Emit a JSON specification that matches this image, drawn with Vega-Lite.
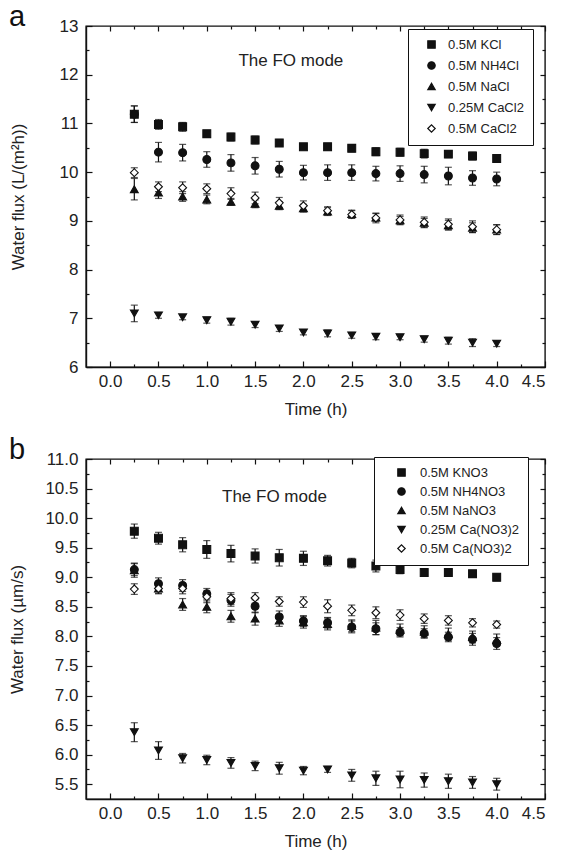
{
"$schema": "https://vega.github.io/schema/vega-lite/v6.json",
"padding": {"left": 8, "top": 2, "right": 5, "bottom": 2},
"spacing": 17,
"resolve": {"scale": {"shape": "independent", "fill": "independent", "stroke": "independent", "y": "independent"}},
"config": {
 "font": "Liberation Sans",
 "view": {"stroke": "#111", "strokeWidth": 1.4},
 "axis": {"domainColor": "#111", "domainWidth": 1.4, "tickColor": "#111", "tickWidth": 1.2, "labelColor": "#222", "labelFontSize": 17, "titleFontSize": 17, "titleFontWeight": "normal", "titleColor": "#222", "grid": false},
 "legend": {"labelFontSize": 13, "labelColor": "#222", "symbolStrokeWidth": 1.2}
},
"datasets": {
 "a": [
{"t":0.25,"v":11.19,"e":0.17,"s":"0.5M KCl"},{"t":0.5,"v":10.98,"e":0.1,"s":"0.5M KCl"},{"t":0.75,"v":10.93,"e":0.09,"s":"0.5M KCl"},{"t":1.0,"v":10.79,"e":0.05,"s":"0.5M KCl"},{"t":1.25,"v":10.72,"e":0.08,"s":"0.5M KCl"},{"t":1.5,"v":10.66,"e":0.08,"s":"0.5M KCl"},{"t":1.75,"v":10.6,"e":0.07,"s":"0.5M KCl"},{"t":2.0,"v":10.52,"e":0.06,"s":"0.5M KCl"},{"t":2.25,"v":10.52,"e":0.07,"s":"0.5M KCl"},{"t":2.5,"v":10.49,"e":0.07,"s":"0.5M KCl"},{"t":2.75,"v":10.42,"e":0.08,"s":"0.5M KCl"},{"t":3.0,"v":10.41,"e":0.08,"s":"0.5M KCl"},{"t":3.25,"v":10.38,"e":0.09,"s":"0.5M KCl"},{"t":3.5,"v":10.37,"e":0.07,"s":"0.5M KCl"},{"t":3.75,"v":10.33,"e":0.08,"s":"0.5M KCl"},{"t":4.0,"v":10.28,"e":0.08,"s":"0.5M KCl"},
{"t":0.25,"v":11.19,"e":0.17,"s":"0.5M NH4Cl"},{"t":0.5,"v":10.41,"e":0.2,"s":"0.5M NH4Cl"},{"t":0.75,"v":10.4,"e":0.17,"s":"0.5M NH4Cl"},{"t":1.0,"v":10.26,"e":0.16,"s":"0.5M NH4Cl"},{"t":1.25,"v":10.19,"e":0.17,"s":"0.5M NH4Cl"},{"t":1.5,"v":10.13,"e":0.17,"s":"0.5M NH4Cl"},{"t":1.75,"v":10.06,"e":0.16,"s":"0.5M NH4Cl"},{"t":2.0,"v":9.99,"e":0.15,"s":"0.5M NH4Cl"},{"t":2.25,"v":9.99,"e":0.16,"s":"0.5M NH4Cl"},{"t":2.5,"v":9.99,"e":0.16,"s":"0.5M NH4Cl"},{"t":2.75,"v":9.97,"e":0.15,"s":"0.5M NH4Cl"},{"t":3.0,"v":9.97,"e":0.16,"s":"0.5M NH4Cl"},{"t":3.25,"v":9.95,"e":0.17,"s":"0.5M NH4Cl"},{"t":3.5,"v":9.92,"e":0.18,"s":"0.5M NH4Cl"},{"t":3.75,"v":9.88,"e":0.15,"s":"0.5M NH4Cl"},{"t":4.0,"v":9.86,"e":0.14,"s":"0.5M NH4Cl"},
{"t":0.25,"v":9.65,"e":0.22,"s":"0.5M NaCl"},{"t":0.5,"v":9.58,"e":0.12,"s":"0.5M NaCl"},{"t":0.75,"v":9.5,"e":0.1,"s":"0.5M NaCl"},{"t":1.0,"v":9.44,"e":0.09,"s":"0.5M NaCl"},{"t":1.25,"v":9.39,"e":0.07,"s":"0.5M NaCl"},{"t":1.5,"v":9.35,"e":0.08,"s":"0.5M NaCl"},{"t":1.75,"v":9.31,"e":0.08,"s":"0.5M NaCl"},{"t":2.0,"v":9.26,"e":0.08,"s":"0.5M NaCl"},{"t":2.25,"v":9.19,"e":0.08,"s":"0.5M NaCl"},{"t":2.5,"v":9.14,"e":0.08,"s":"0.5M NaCl"},{"t":2.75,"v":9.07,"e":0.08,"s":"0.5M NaCl"},{"t":3.0,"v":9.01,"e":0.08,"s":"0.5M NaCl"},{"t":3.25,"v":8.96,"e":0.09,"s":"0.5M NaCl"},{"t":3.5,"v":8.91,"e":0.1,"s":"0.5M NaCl"},{"t":3.75,"v":8.86,"e":0.1,"s":"0.5M NaCl"},{"t":4.0,"v":8.82,"e":0.1,"s":"0.5M NaCl"},
{"t":0.25,"v":7.1,"e":0.17,"s":"0.25M CaCl2"},{"t":0.5,"v":7.06,"e":0.06,"s":"0.25M CaCl2"},{"t":0.75,"v":7.02,"e":0.05,"s":"0.25M CaCl2"},{"t":1.0,"v":6.96,"e":0.06,"s":"0.25M CaCl2"},{"t":1.25,"v":6.93,"e":0.07,"s":"0.25M CaCl2"},{"t":1.5,"v":6.87,"e":0.06,"s":"0.25M CaCl2"},{"t":1.75,"v":6.79,"e":0.06,"s":"0.25M CaCl2"},{"t":2.0,"v":6.71,"e":0.05,"s":"0.25M CaCl2"},{"t":2.25,"v":6.69,"e":0.07,"s":"0.25M CaCl2"},{"t":2.5,"v":6.65,"e":0.06,"s":"0.25M CaCl2"},{"t":2.75,"v":6.62,"e":0.06,"s":"0.25M CaCl2"},{"t":3.0,"v":6.61,"e":0.05,"s":"0.25M CaCl2"},{"t":3.25,"v":6.57,"e":0.06,"s":"0.25M CaCl2"},{"t":3.5,"v":6.54,"e":0.07,"s":"0.25M CaCl2"},{"t":3.75,"v":6.5,"e":0.08,"s":"0.25M CaCl2"},{"t":4.0,"v":6.48,"e":0.06,"s":"0.25M CaCl2"},
{"t":0.25,"v":9.99,"e":0.1,"s":"0.5M CaCl2"},{"t":0.5,"v":9.7,"e":0.1,"s":"0.5M CaCl2"},{"t":0.75,"v":9.68,"e":0.12,"s":"0.5M CaCl2"},{"t":1.0,"v":9.66,"e":0.1,"s":"0.5M CaCl2"},{"t":1.25,"v":9.56,"e":0.12,"s":"0.5M CaCl2"},{"t":1.5,"v":9.47,"e":0.12,"s":"0.5M CaCl2"},{"t":1.75,"v":9.37,"e":0.11,"s":"0.5M CaCl2"},{"t":2.0,"v":9.31,"e":0.1,"s":"0.5M CaCl2"},{"t":2.25,"v":9.21,"e":0.08,"s":"0.5M CaCl2"},{"t":2.5,"v":9.13,"e":0.08,"s":"0.5M CaCl2"},{"t":2.75,"v":9.06,"e":0.1,"s":"0.5M CaCl2"},{"t":3.0,"v":9.02,"e":0.1,"s":"0.5M CaCl2"},{"t":3.25,"v":8.97,"e":0.11,"s":"0.5M CaCl2"},{"t":3.5,"v":8.93,"e":0.11,"s":"0.5M CaCl2"},{"t":3.75,"v":8.88,"e":0.12,"s":"0.5M CaCl2"},{"t":4.0,"v":8.82,"e":0.1,"s":"0.5M CaCl2"}
 ],
 "b": [
{"t":0.25,"v":9.78,"e":0.12,"s":"0.5M KNO3"},{"t":0.5,"v":9.66,"e":0.1,"s":"0.5M KNO3"},{"t":0.75,"v":9.55,"e":0.12,"s":"0.5M KNO3"},{"t":1.0,"v":9.47,"e":0.15,"s":"0.5M KNO3"},{"t":1.25,"v":9.4,"e":0.14,"s":"0.5M KNO3"},{"t":1.5,"v":9.36,"e":0.12,"s":"0.5M KNO3"},{"t":1.75,"v":9.33,"e":0.14,"s":"0.5M KNO3"},{"t":2.0,"v":9.32,"e":0.12,"s":"0.5M KNO3"},{"t":2.25,"v":9.28,"e":0.09,"s":"0.5M KNO3"},{"t":2.5,"v":9.24,"e":0.08,"s":"0.5M KNO3"},{"t":2.75,"v":9.19,"e":0.1,"s":"0.5M KNO3"},{"t":3.0,"v":9.13,"e":0.07,"s":"0.5M KNO3"},{"t":3.25,"v":9.08,"e":0.04,"s":"0.5M KNO3"},{"t":3.5,"v":9.08,"e":0.03,"s":"0.5M KNO3"},{"t":3.75,"v":9.06,"e":0.03,"s":"0.5M KNO3"},{"t":4.0,"v":9.0,"e":0.06,"s":"0.5M KNO3"},
{"t":0.25,"v":9.13,"e":0.1,"s":"0.5M NH4NO3"},{"t":0.5,"v":8.89,"e":0.1,"s":"0.5M NH4NO3"},{"t":0.75,"v":8.86,"e":0.1,"s":"0.5M NH4NO3"},{"t":1.0,"v":8.72,"e":0.09,"s":"0.5M NH4NO3"},{"t":1.25,"v":8.61,"e":0.1,"s":"0.5M NH4NO3"},{"t":1.5,"v":8.51,"e":0.11,"s":"0.5M NH4NO3"},{"t":1.75,"v":8.33,"e":0.1,"s":"0.5M NH4NO3"},{"t":2.0,"v":8.26,"e":0.09,"s":"0.5M NH4NO3"},{"t":2.25,"v":8.23,"e":0.09,"s":"0.5M NH4NO3"},{"t":2.5,"v":8.16,"e":0.1,"s":"0.5M NH4NO3"},{"t":2.75,"v":8.13,"e":0.1,"s":"0.5M NH4NO3"},{"t":3.0,"v":8.07,"e":0.08,"s":"0.5M NH4NO3"},{"t":3.25,"v":8.05,"e":0.08,"s":"0.5M NH4NO3"},{"t":3.5,"v":7.99,"e":0.08,"s":"0.5M NH4NO3"},{"t":3.75,"v":7.95,"e":0.1,"s":"0.5M NH4NO3"},{"t":4.0,"v":7.88,"e":0.1,"s":"0.5M NH4NO3"},
{"t":0.25,"v":9.12,"e":0.12,"s":"0.5M NaNO3"},{"t":0.5,"v":8.81,"e":0.09,"s":"0.5M NaNO3"},{"t":0.75,"v":8.54,"e":0.1,"s":"0.5M NaNO3"},{"t":1.0,"v":8.5,"e":0.1,"s":"0.5M NaNO3"},{"t":1.25,"v":8.34,"e":0.1,"s":"0.5M NaNO3"},{"t":1.5,"v":8.3,"e":0.11,"s":"0.5M NaNO3"},{"t":1.75,"v":8.27,"e":0.1,"s":"0.5M NaNO3"},{"t":2.0,"v":8.24,"e":0.1,"s":"0.5M NaNO3"},{"t":2.25,"v":8.21,"e":0.1,"s":"0.5M NaNO3"},{"t":2.5,"v":8.18,"e":0.1,"s":"0.5M NaNO3"},{"t":2.75,"v":8.15,"e":0.12,"s":"0.5M NaNO3"},{"t":3.0,"v":8.11,"e":0.1,"s":"0.5M NaNO3"},{"t":3.25,"v":8.08,"e":0.1,"s":"0.5M NaNO3"},{"t":3.5,"v":8.04,"e":0.1,"s":"0.5M NaNO3"},{"t":3.75,"v":7.99,"e":0.1,"s":"0.5M NaNO3"},{"t":4.0,"v":7.94,"e":0.1,"s":"0.5M NaNO3"},
{"t":0.25,"v":6.38,"e":0.16,"s":"0.25M Ca(NO3)2"},{"t":0.5,"v":6.07,"e":0.15,"s":"0.25M Ca(NO3)2"},{"t":0.75,"v":5.94,"e":0.08,"s":"0.25M Ca(NO3)2"},{"t":1.0,"v":5.91,"e":0.08,"s":"0.25M Ca(NO3)2"},{"t":1.25,"v":5.86,"e":0.09,"s":"0.25M Ca(NO3)2"},{"t":1.5,"v":5.81,"e":0.08,"s":"0.25M Ca(NO3)2"},{"t":1.75,"v":5.77,"e":0.1,"s":"0.25M Ca(NO3)2"},{"t":2.0,"v":5.73,"e":0.07,"s":"0.25M Ca(NO3)2"},{"t":2.25,"v":5.75,"e":0.05,"s":"0.25M Ca(NO3)2"},{"t":2.5,"v":5.65,"e":0.1,"s":"0.25M Ca(NO3)2"},{"t":2.75,"v":5.6,"e":0.12,"s":"0.25M Ca(NO3)2"},{"t":3.0,"v":5.58,"e":0.14,"s":"0.25M Ca(NO3)2"},{"t":3.25,"v":5.57,"e":0.12,"s":"0.25M Ca(NO3)2"},{"t":3.5,"v":5.55,"e":0.12,"s":"0.25M Ca(NO3)2"},{"t":3.75,"v":5.53,"e":0.1,"s":"0.25M Ca(NO3)2"},{"t":4.0,"v":5.5,"e":0.1,"s":"0.25M Ca(NO3)2"},
{"t":0.25,"v":8.8,"e":0.09,"s":"0.5M Ca(NO3)2"},{"t":0.5,"v":8.81,"e":0.08,"s":"0.5M Ca(NO3)2"},{"t":0.75,"v":8.81,"e":0.09,"s":"0.5M Ca(NO3)2"},{"t":1.0,"v":8.67,"e":0.1,"s":"0.5M Ca(NO3)2"},{"t":1.25,"v":8.64,"e":0.1,"s":"0.5M Ca(NO3)2"},{"t":1.5,"v":8.65,"e":0.09,"s":"0.5M Ca(NO3)2"},{"t":1.75,"v":8.59,"e":0.08,"s":"0.5M Ca(NO3)2"},{"t":2.0,"v":8.58,"e":0.09,"s":"0.5M Ca(NO3)2"},{"t":2.25,"v":8.51,"e":0.11,"s":"0.5M Ca(NO3)2"},{"t":2.5,"v":8.44,"e":0.09,"s":"0.5M Ca(NO3)2"},{"t":2.75,"v":8.4,"e":0.1,"s":"0.5M Ca(NO3)2"},{"t":3.0,"v":8.36,"e":0.09,"s":"0.5M Ca(NO3)2"},{"t":3.25,"v":8.3,"e":0.08,"s":"0.5M Ca(NO3)2"},{"t":3.5,"v":8.27,"e":0.08,"s":"0.5M Ca(NO3)2"},{"t":3.75,"v":8.23,"e":0.07,"s":"0.5M Ca(NO3)2"},{"t":4.0,"v":8.2,"e":0.06,"s":"0.5M Ca(NO3)2"}
 ]
},
"vconcat": [
 {
  "width": 459, "height": 341,
  "title": {"text": "a", "anchor": "start", "frame": "group", "fontSize": 29, "fontWeight": "normal", "color": "#111", "dx": -77, "offset": -15},
  "data": {"name": "a"},
  "resolve": {"axis": {"x": "independent", "y": "independent"}},
  "layer": [
   {"mark": {"type": "errorbar", "ticks": {"size": 7}, "color": "#111", "thickness": 1.2},
    "encoding": {
     "x": {"field": "t", "type": "quantitative", "scale": {"domain": [-0.25, 4.5], "nice": false, "zero": false}, "axis": null},
     "y": {"field": "v", "type": "quantitative", "scale": {"domain": [6, 13], "nice": false, "zero": false}, "axis": null},
     "yError": {"field": "e"}
    }},
   {"mark": {"type": "point", "filled": false, "size": 62, "strokeWidth": 1.1, "opacity": 1},
    "encoding": {
     "x": {"field": "t", "type": "quantitative", "scale": {"domain": [-0.25, 4.5], "nice": false, "zero": false},
       "axis": {"orient": "bottom", "title": "Time (h)", "values": [0,0.25,0.5,0.75,1,1.25,1.5,1.75,2,2.25,2.5,2.75,3,3.25,3.5,3.75,4,4.25,4.5], "labelExpr": "datum.value % 0.5 === 0 ? format(datum.value, '.1f') : ''", "tickSize": {"condition": {"test": "datum.value % 0.5 === 0", "value": -6}, "value": -3}, "labelPadding": 12, "titlePadding": 12}},
     "y": {"field": "v", "type": "quantitative", "scale": {"domain": [6, 13], "nice": false, "zero": false},
       "axis": {"orient": "left", "title": "Water flux (L/(m²h))", "values": [6,6.5,7,7.5,8,8.5,9,9.5,10,10.5,11,11.5,12,12.5,13], "labelExpr": "datum.value % 1 === 0 ? format(datum.value, 'd') : ''", "tickSize": {"condition": {"test": "datum.value % 1 === 0", "value": -6}, "value": -3}, "labelPadding": 14, "titlePadding": 32}},
     "shape": {"field": "s", "type": "nominal", "scale": {"domain": ["0.5M KCl","0.5M NH4Cl","0.5M NaCl","0.25M CaCl2","0.5M CaCl2"], "range": ["square","circle","triangle-up","triangle-down","diamond"]},
       "legend": {"title": null, "orient": "none", "legendX": 322, "legendY": 3, "strokeColor": "#111", "fillColor": "white", "padding": 9, "symbolOffset": 8, "rowPadding": 7, "symbolSize": 55, "labelOffset": 10}},
     "fill": {"field": "s", "type": "nominal", "scale": {"domain": ["0.5M KCl","0.5M NH4Cl","0.5M NaCl","0.25M CaCl2","0.5M CaCl2"], "range": ["#111","#111","#111","#111","white"]},
       "legend": {"title": null, "orient": "none", "legendX": 322, "legendY": 3, "strokeColor": "#111", "fillColor": "white", "padding": 9, "symbolOffset": 8, "rowPadding": 7, "symbolSize": 55, "labelOffset": 10}},
     "stroke": {"field": "s", "type": "nominal", "scale": {"domain": ["0.5M KCl","0.5M NH4Cl","0.5M NaCl","0.25M CaCl2","0.5M CaCl2"], "range": ["#111","#111","#111","#111","#111"]},
       "legend": {"title": null, "orient": "none", "legendX": 322, "legendY": 3, "strokeColor": "#111", "fillColor": "white", "padding": 9, "symbolOffset": 8, "rowPadding": 7, "symbolSize": 55, "labelOffset": 10}}
    }},
   {"data": {"values": [{"t": 1.87, "v": 12.28, "label": "The FO mode"}]},
    "mark": {"type": "text", "fontSize": 17, "color": "#222"},
    "encoding": {
     "x": {"field": "t", "type": "quantitative", "scale": {"domain": [-0.25, 4.5], "nice": false, "zero": false},
       "axis": {"orient": "top", "title": null, "labels": false, "domain": false, "values": [0,0.25,0.5,0.75,1,1.25,1.5,1.75,2,2.25,2.5,2.75,3,3.25,3.5,3.75,4,4.25,4.5], "tickSize": {"condition": {"test": "datum.value % 0.5 === 0", "value": -5}, "value": -3}}},
     "y": {"field": "v", "type": "quantitative", "scale": {"domain": [6, 13], "nice": false, "zero": false},
       "axis": {"orient": "right", "title": null, "labels": false, "domain": false, "values": [6,6.5,7,7.5,8,8.5,9,9.5,10,10.5,11,11.5,12,12.5,13], "tickSize": {"condition": {"test": "datum.value % 1 === 0", "value": -5}, "value": -3}}},
     "text": {"field": "label"}
    }}
  ]
 },
 {
  "width": 459, "height": 340,
  "title": {"text": "b", "anchor": "start", "frame": "group", "fontSize": 29, "fontWeight": "normal", "color": "#111", "dx": -77, "offset": -15},
  "data": {"name": "b"},
  "resolve": {"axis": {"x": "independent", "y": "independent"}},
  "layer": [
   {"mark": {"type": "errorbar", "ticks": {"size": 7}, "color": "#111", "thickness": 1.2},
    "encoding": {
     "x": {"field": "t", "type": "quantitative", "scale": {"domain": [-0.25, 4.5], "nice": false, "zero": false}, "axis": null},
     "y": {"field": "v", "type": "quantitative", "scale": {"domain": [5.25, 11], "nice": false, "zero": false}, "axis": null},
     "yError": {"field": "e"}
    }},
   {"mark": {"type": "point", "filled": false, "size": 62, "strokeWidth": 1.1, "opacity": 1},
    "encoding": {
     "x": {"field": "t", "type": "quantitative", "scale": {"domain": [-0.25, 4.5], "nice": false, "zero": false},
       "axis": {"orient": "bottom", "title": "Time (h)", "values": [0,0.25,0.5,0.75,1,1.25,1.5,1.75,2,2.25,2.5,2.75,3,3.25,3.5,3.75,4,4.25,4.5], "labelExpr": "datum.value % 0.5 === 0 ? format(datum.value, '.1f') : ''", "tickSize": {"condition": {"test": "datum.value % 0.5 === 0", "value": -6}, "value": -3}, "labelPadding": 12, "titlePadding": 12}},
     "y": {"field": "v", "type": "quantitative", "scale": {"domain": [5.25, 11], "nice": false, "zero": false},
       "axis": {"orient": "left", "title": "Water flux (µm/s)", "values": [5.5,5.75,6,6.25,6.5,6.75,7,7.25,7.5,7.75,8,8.25,8.5,8.75,9,9.25,9.5,9.75,10,10.25,10.5,10.75,11], "labelExpr": "datum.value % 0.5 === 0 ? format(datum.value, '.1f') : ''", "tickSize": {"condition": {"test": "datum.value % 0.5 === 0", "value": -6}, "value": -3}, "labelPadding": 14, "titlePadding": 18}},
     "shape": {"field": "s", "type": "nominal", "scale": {"domain": ["0.5M KNO3","0.5M NH4NO3","0.5M NaNO3","0.25M Ca(NO3)2","0.5M Ca(NO3)2"], "range": ["square","circle","triangle-up","triangle-down","diamond"]},
       "legend": {"title": null, "orient": "none", "legendX": 288, "legendY": -2, "strokeColor": "#111", "fillColor": "white", "padding": 9, "symbolOffset": 12, "rowPadding": 5, "symbolSize": 55, "labelOffset": 12}},
     "fill": {"field": "s", "type": "nominal", "scale": {"domain": ["0.5M KNO3","0.5M NH4NO3","0.5M NaNO3","0.25M Ca(NO3)2","0.5M Ca(NO3)2"], "range": ["#111","#111","#111","#111","white"]},
       "legend": {"title": null, "orient": "none", "legendX": 288, "legendY": -2, "strokeColor": "#111", "fillColor": "white", "padding": 9, "symbolOffset": 12, "rowPadding": 5, "symbolSize": 55, "labelOffset": 12}},
     "stroke": {"field": "s", "type": "nominal", "scale": {"domain": ["0.5M KNO3","0.5M NH4NO3","0.5M NaNO3","0.25M Ca(NO3)2","0.5M Ca(NO3)2"], "range": ["#111","#111","#111","#111","#111"]},
       "legend": {"title": null, "orient": "none", "legendX": 288, "legendY": -2, "strokeColor": "#111", "fillColor": "white", "padding": 9, "symbolOffset": 12, "rowPadding": 5, "symbolSize": 55, "labelOffset": 12}}
    }},
   {"data": {"values": [{"t": 1.7, "v": 10.36, "label": "The FO mode"}]},
    "mark": {"type": "text", "fontSize": 17, "color": "#222"},
    "encoding": {
     "x": {"field": "t", "type": "quantitative", "scale": {"domain": [-0.25, 4.5], "nice": false, "zero": false},
       "axis": {"orient": "top", "title": null, "labels": false, "domain": false, "values": [0,0.25,0.5,0.75,1,1.25,1.5,1.75,2,2.25,2.5,2.75,3,3.25,3.5,3.75,4,4.25,4.5], "tickSize": {"condition": {"test": "datum.value % 0.5 === 0", "value": -5}, "value": -3}}},
     "y": {"field": "v", "type": "quantitative", "scale": {"domain": [5.25, 11], "nice": false, "zero": false},
       "axis": {"orient": "right", "title": null, "labels": false, "domain": false, "values": [5.5,5.75,6,6.25,6.5,6.75,7,7.25,7.5,7.75,8,8.25,8.5,8.75,9,9.25,9.5,9.75,10,10.25,10.5,10.75,11], "tickSize": {"condition": {"test": "datum.value % 0.5 === 0", "value": -5}, "value": -3}}},
     "text": {"field": "label"}
    }}
  ]
 }
]
}
